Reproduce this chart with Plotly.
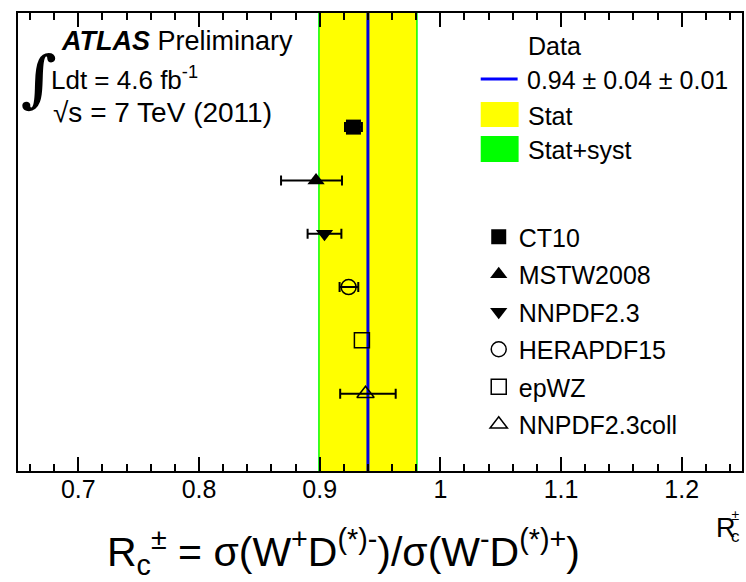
import plotly.graph_objects as go
import math

# ---------------- data ----------------
pdf_names = ["CT10", "MSTW2008", "NNPDF2.3", "HERAPDF15", "epWZ", "NNPDF2.3coll"]
pdf_values = [0.928, 0.897, 0.904, 0.924, 0.935, 0.938]
pdf_err_plus = [0.007, 0.0215, 0.014, 0.008, 0.0, 0.025]
pdf_err_minus = [0.007, 0.029, 0.014, 0.0075, 0.0, 0.021]
pdf_symbols = ["square", "triangle-up", "triangle-down", "circle-open", "square-open", "triangle-up-open"]

data_central = 0.94
data_stat = 0.04
data_syst = 0.01

x_range = [0.65, 1.25]
x_tick_values = [0.7, 0.8, 0.9, 1.0, 1.1, 1.2]
x_tick_labels = ["0.7", "0.8", "0.9", "1", "1.1", "1.2"]

# ---------------- layout helpers ----------------
W, H = 746, 582
ML, MR, MT, MB = 18, 2, 13, 111
PW, PH = W - ML - MR, H - MT - MB
FONT = "Liberation Sans, Arial, Helvetica, sans-serif"


def px(x):
    return (x - ML) / PW


def py(y):
    return (H - MB - y) / PH


n = len(pdf_names)
y_pos = [n - i for i in range(n)]

fig = go.Figure()

for name, v, ep, em, sym, yp in zip(pdf_names, pdf_values, pdf_err_plus,
                                     pdf_err_minus, pdf_symbols, y_pos):
    is_open = sym.endswith("open")
    fig.add_trace(go.Scatter(
        x=[v], y=[yp], mode="markers", name=name, legendgroup=name,
        marker=dict(symbol=sym, size=15, color="black",
                    line=dict(color="black", width=1.5 if is_open else 0)),
        error_x=dict(type="data", symmetric=False, array=[ep], arrayminus=[em],
                     color="black", thickness=2, width=5, visible=ep > 0),
    ))

tot = math.sqrt(data_stat ** 2 + data_syst ** 2)
shapes = [
    dict(type="rect", xref="x", yref="paper", x0=data_central - tot, x1=data_central + tot,
         y0=0, y1=1, fillcolor="#00ff00", line=dict(width=0), layer="below"),
    dict(type="rect", xref="x", yref="paper", x0=data_central - data_stat, x1=data_central + data_stat,
         y0=0, y1=1, fillcolor="#ffff00", line=dict(width=0), layer="below"),
    dict(type="line", xref="x", yref="paper", x0=data_central, x1=data_central,
         y0=0, y1=1, line=dict(color="#0000e6", width=3), layer="below"),
    # legend swatches
    dict(type="line", xref="paper", yref="paper", x0=px(482), x1=px(519), y0=py(79), y1=py(79),
         line=dict(color="#0000ff", width=3)),
    dict(type="rect", xref="paper", yref="paper", x0=px(482), x1=px(520), y0=py(127), y1=py(102),
         fillcolor="#ffff00", line=dict(width=0)),
    dict(type="rect", xref="paper", yref="paper", x0=px(482), x1=px(520), y0=py(162), y1=py(136),
         fillcolor="#00ff00", line=dict(width=0)),
]

def ann(text, x, y, size, xanchor="left", family=FONT):
    return dict(text=text, x=px(x), y=py(y), xref="paper", yref="paper",
                xanchor=xanchor, yanchor="middle", showarrow=False,
                font=dict(family=family, size=size, color="black"))

annotations = [
    ann("<b><i>ATLAS</i></b> Preliminary", 59, 41, 27),
    ann("Ldt = 4.6 fb<sup>-1</sup>", 49, 78, 26),
    ann("√s = 7 TeV (2011)", 51, 112, 28),
    ann("<b>∫</b>", 19, 78, 62, family="DejaVu Serif"),
    ann("Data", 527, 46, 25),
    ann(f"{data_central:.2f} ± {data_stat:.2f} ± {data_syst:.2f}", 526, 80, 25),
    ann("Stat", 527, 116, 25),
    ann("Stat+syst", 527, 150, 25),
    ann("R", 716, 528, 27),
    ann("<span style='font-size:14px'>±</span><br>c", 731, 526, 17),
    ann("R<sub>c</sub><sup>±</sup> = σ(W<sup>+</sup>D<sup>(*)-</sup>)/σ(W<sup>-</sup>D<sup>(*)+</sup>)",
        344, 552, 41, xanchor="center"),
]

fig.update_layout(
    width=W, height=H,
    margin=dict(l=ML, r=MR, t=MT, b=MB, pad=0),
    paper_bgcolor="white", plot_bgcolor="white",
    font=dict(family=FONT, color="black"),
    shapes=shapes, annotations=annotations,
    showlegend=True,
    legend=dict(x=px(480), y=py(214), xanchor="left", yanchor="top",
                font=dict(family=FONT, size=25, color="black"),
                bgcolor="rgba(0,0,0,0)", tracegroupgap=2, itemclick=False),
    xaxis=dict(range=x_range, tickvals=x_tick_values, ticktext=x_tick_labels,
               ticks="inside", ticklen=14, tickwidth=1.5, tickcolor="black",
               minor=dict(dtick=0.02, ticks="inside", ticklen=7, tickwidth=1.5, tickcolor="black"),
               showline=True, linecolor="black", linewidth=2, mirror="ticks",
               showgrid=False, zeroline=False, ticklabelstandoff=-5,
               tickfont=dict(family=FONT, size=25, color="black")),
    yaxis=dict(range=[-0.45, 8.14], showticklabels=False, ticks="",
               showline=True, linecolor="black", linewidth=1.5, mirror=True,
               showgrid=False, zeroline=False),
)

fig.write_html("out.html", config={"displayModeBar": False},
               post_script="document.body.style.margin='0';document.body.style.overflow='hidden';")
